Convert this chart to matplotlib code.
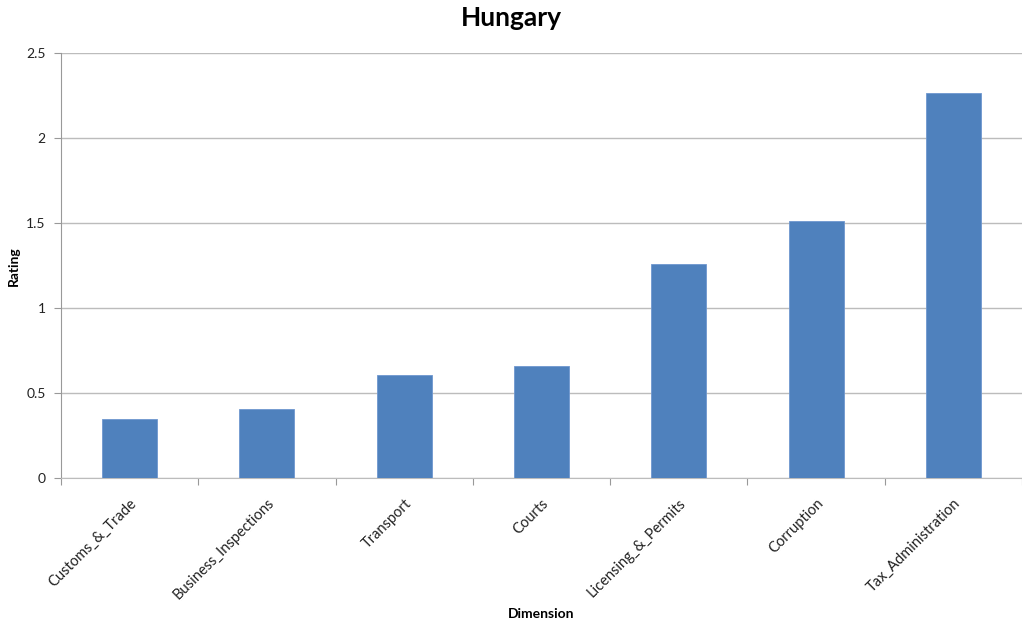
import numpy as np
import matplotlib.pyplot as plt

categories = ['Customs_&_Trade', 'Business_Inspections', 'Transport', 'Courts',
              'Licensing_&_Permits', 'Corruption', 'Tax_Administration']
ratings = [0.345, 0.404, 0.606, 0.66, 1.26, 1.515, 2.268]
y_ticks = [0, 0.5, 1, 1.5, 2, 2.5]
y_ticklabels = ['0', '0.5', '1', '1.5', '2', '2.5']

plt.rcParams['font.family'] = ['Lato', 'DejaVu Sans']

fig = plt.figure(figsize=(10.22, 6.25), dpi=100)
ax = fig.add_axes([0.0597, 0.2352, 0.9403, 0.6795])

x = np.arange(len(categories))
ax.bar(x, ratings, width=0.4, color='#4f81bd', edgecolor='#6f97cf', linewidth=0.6, zorder=3)

ax.set_xlim(-0.5, len(categories) - 0.5)
ax.set_ylim(0, 2.5)
ax.set_yticks(y_ticks)
ax.set_yticklabels(y_ticklabels, fontsize=10, color='#222222')
ax.yaxis.grid(True, color='#bcbcbc', linewidth=1.0, zorder=0)

ax.set_xticks(x)
ax.set_xticklabels(categories, rotation=45, ha='right', va='top', rotation_mode='anchor',
                   fontsize=10.5, color='#222222')
ax.tick_params(axis='x', which='major', length=0, pad=13)
ax.set_xticks(np.arange(len(categories) + 1) - 0.5, minor=True)
ax.tick_params(axis='x', which='minor', length=5, color='#999999', width=0.8)
ax.tick_params(axis='y', length=5, color='#999999', width=0.8, pad=6)

for side in ['top', 'right']:
    ax.spines[side].set_visible(False)
ax.spines['left'].set_color('#999999')
ax.spines['bottom'].set_color('#bcbcbc')

# titles placed in figure pixels to match the reference layout
fig.text(0.5, 0.972, 'Hungary', fontsize=19, fontweight='bold', ha='center', va='center')
fig.text(14 / 1022, 1 - 266 / 625, 'Rating', fontsize=10, fontweight='bold',
         rotation=90, ha='center', va='center')
fig.text(541 / 1022, 1 - 614 / 625, 'Dimension', fontsize=10, fontweight='bold',
         ha='center', va='center')

fig.savefig('out.png', dpi=100)
